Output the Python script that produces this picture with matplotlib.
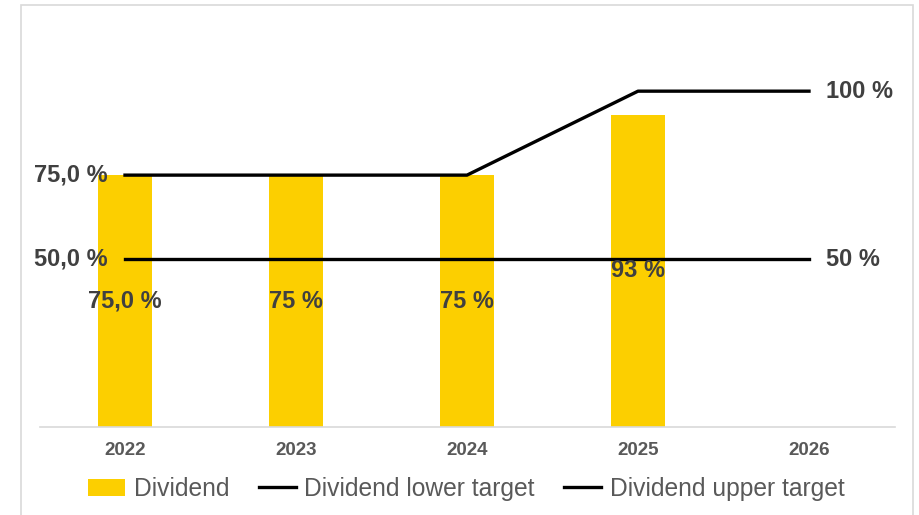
import matplotlib
matplotlib.use("Agg")
import matplotlib.pyplot as plt
import numpy as np
from matplotlib.patches import Rectangle

plt.rcParams['font.family'] = ['Liberation Sans', 'DejaVu Sans']

years = ["2022", "2023", "2024", "2025", "2026"]
dividend = [75, 75, 75, 93, np.nan]
dividend_labels = ["75,0 %", "75 %", "75 %", "93 %"]
lower_target = [50, 50, 50, 50, 50]
upper_target = [75, 75, 75, 100, 100]
left_labels = {75: "75,0 %", 50: "50,0 %"}
right_labels = {100: "100 %", 50: "50 %"}

W, H = 920, 515
fig = plt.figure(figsize=(W / 100, H / 100), dpi=100)
fig.patches.append(Rectangle((21 / W, -0.1), (913 - 21) / W, (515 - 5) / H + 0.1,
                             transform=fig.transFigure, fill=False,
                             edgecolor="#D9D9D9", linewidth=1.2))

ax = fig.add_axes([39.5 / W, (H - 427) / H, (894.5 - 39.5) / W, 403 / H])
x = np.arange(len(years))
b = ax.bar(x, dividend, width=0.31, color="#FCCF00", label="Dividend", zorder=1)
l1, = ax.plot(x, lower_target, color="black", lw=2.4, label="Dividend lower target", zorder=2)
l2, = ax.plot(x, upper_target, color="black", lw=2.4, label="Dividend upper target", zorder=2)

ax.set_xlim(-0.5, 4.5)
ax.set_ylim(0, 120)
for s in ["top", "right", "left"]:
    ax.spines[s].set_visible(False)
ax.spines["bottom"].set_color("#D9D9D9")
ax.spines["bottom"].set_linewidth(1.2)
ax.set_yticks([])
ax.set_xticks(x)
ax.set_xticklabels(years, fontsize=13.5, fontweight="bold", color="#595959")
ax.tick_params(axis="x", length=0, pad=11)

txt_color = "#404040"
for i, lab in enumerate(dividend_labels):
    ax.text(x[i], dividend[i] / 2, lab, ha="center", va="center",
            fontsize=17, fontweight="bold", color=txt_color, zorder=3)
for v, lab in left_labels.items():
    ax.text(-0.1, v, lab, ha="right", va="center",
            fontsize=17, fontweight="bold", color=txt_color)
for v, lab in right_labels.items():
    ax.text(4.1, v, lab, ha="left", va="center",
            fontsize=17, fontweight="bold", color=txt_color)

fig.legend(handles=[b, l1, l2], loc="center", bbox_to_anchor=(0.507, 26 / H), ncol=3,
           frameon=False, fontsize=17.7, handlelength=1.5, handletextpad=0.35,
           columnspacing=1.2, labelcolor="#595959")

fig.savefig("out.png", dpi=100)
